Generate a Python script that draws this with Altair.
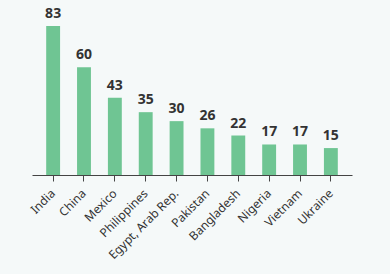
import altair as alt
import pandas as pd

countries = ["India", "China", "Mexico", "Philippines", "Egypt, Arab Rep.",
             "Pakistan", "Bangladesh", "Nigeria", "Vietnam", "Ukraine"]
values = [83, 60, 43, 35, 30, 26, 22, 17, 17, 15]

df = pd.DataFrame({"country": countries, "value": values})

x = alt.X("country:N", sort=countries, title=None,
          scale=alt.Scale(paddingInner=0.55, paddingOuter=0.46),
          axis=alt.Axis(labelAngle=-45, labelAlign="right", labelBaseline="middle",
                        labelFontSize=12, labelColor="#333333", labelFont="Noto Sans",
                        domainColor="#444444", tickColor="#444444", tickSize=6,
                        labelPadding=10, domainWidth=1.2))
y = alt.Y("value:Q", title=None, axis=None, scale=alt.Scale(domain=[0, 83], nice=False))

bars = alt.Chart(df).mark_bar(color="#6fc593").encode(x=x, y=y)
text = alt.Chart(df).mark_text(baseline="bottom", dy=-5, fontSize=14, fontWeight="bold",
                               color="#333333", font="Noto Sans").encode(x=x, y=y, text="value:Q")

chart = (bars + text).properties(
    width=320, height=149,
    background="#f5f9f9",
    autosize=alt.AutoSizeParams(type="none"),
    padding={"left": 32, "top": 26, "right": 38, "bottom": 99},
).configure_view(stroke=None)

chart.save("out.html", embed_options={"renderer": "svg", "actions": False})
